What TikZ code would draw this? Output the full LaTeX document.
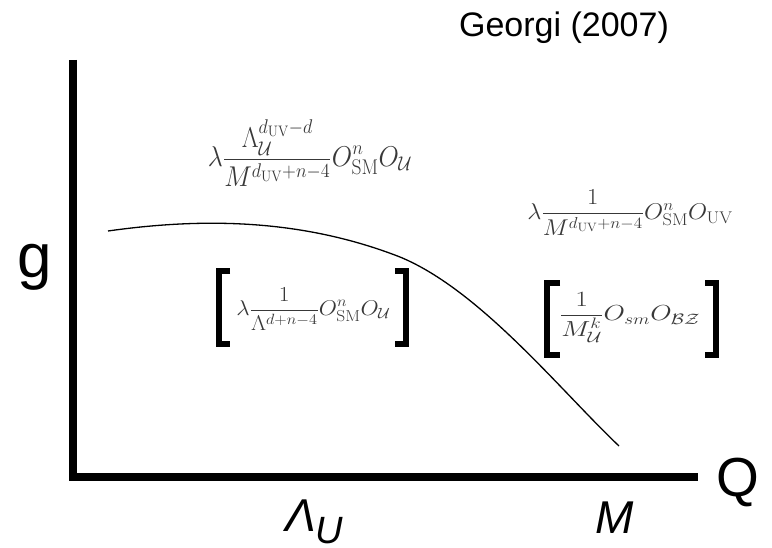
\documentclass[tikz,border=0pt]{standalone}
\usepackage{fontspec}
\usepackage{amsmath}
\usepackage{graphicx}
\newfontfamily\arial{Liberation Sans}
\newcommand{\fgray}{\color{black!78}}
\tikzset{
  axis/.style={line width=8pt, line join=miter},
  formula/.style={anchor=base, inner sep=0pt, font=\fontsize{22}{26}\selectfont},
  lbl/.style={anchor=base, inner sep=0pt, font=\arial},
  bracket/.style={line width=6pt, line join=miter, line cap=butt},
}
\begin{document}
\begin{tikzpicture}[x=1pt,y=-1pt]
\useasboundingbox (0,0) rectangle (772,548);
\coordinate (top) at (72.5,60);
\coordinate (origin) at (72.5,477);
\coordinate (right) at (698,477);
\draw[axis] (top) -- (origin) -- (right);
\coordinate (c0) at (108,231);
\coordinate (c1) at (400,257);
\coordinate (c2) at (619,446);
\draw[line width=1.3pt] (c0) .. controls (200,218) and (300,218) .. (c1)
  .. controls (480,290) and (560,390) .. (c2);
\node[lbl, font=\arial\fontsize{62}{70}\selectfont] (g) at (35,278) {g};
\node[lbl, font=\arial\fontsize{55}{60}\selectfont] (Q) at (738,496) {Q};
\node[lbl, font=\arial\fontsize{34}{40}\selectfont] (ref) at (564,37) {Georgi (2007)};
\node[lbl, font=\arial\itshape\fontsize{46}{50}\selectfont, anchor=base west] (lam) at (285,531) {Λ\raisebox{-12pt}{\fontsize{38}{40}\selectfont U}};
\node[lbl, font=\arial\itshape\fontsize{46}{50}\selectfont] (M) at (615,533) {M};
\node[formula] (f1) at (310,166.6) {\fgray\scalebox{1.265}[1.38]{$\displaystyle\lambda\frac{\Lambda_{\mathcal U}^{d_{\mathrm{UV}}-d}}{M^{d_{\mathrm{UV}}+n-4}}O^n_{\mathrm{SM}}O_{\mathcal U}$}};
\node[formula] (f2) at (630,219.5) {\fgray\scalebox{1.19}[1.1]{$\displaystyle\lambda\frac{1}{M^{d_{\mathrm{UV}}+n-4}}O^n_{\mathrm{SM}}O_{\mathrm{UV}}$}};
\node[formula] (f3) at (313.5,315.7) {\fgray\scalebox{1.13}[1.03]{$\displaystyle\lambda\frac{1}{\Lambda^{d+n-4}}O^n_{\mathrm{SM}}O_{\mathcal U}$}};
\node[formula] (f4) at (630,320.8) {\fgray\scalebox{1.33}[1.05]{$\displaystyle\frac{1}{M^k_{\mathcal U}}O_{sm}O_{\mathcal{BZ}}$}};
% brackets around f3
\draw[bracket] (230,271) -- (218.5,271) -- (218.5,344) -- (230,344);
\draw[bracket] (395,271) -- (406,271) -- (406,344) -- (395,344);
% brackets around f4
\draw[bracket] (560,283) -- (546.5,283) -- (546.5,355) -- (560,355);
\draw[bracket] (705,283) -- (716,283) -- (716,355) -- (705,355);
\end{tikzpicture}
\end{document}
